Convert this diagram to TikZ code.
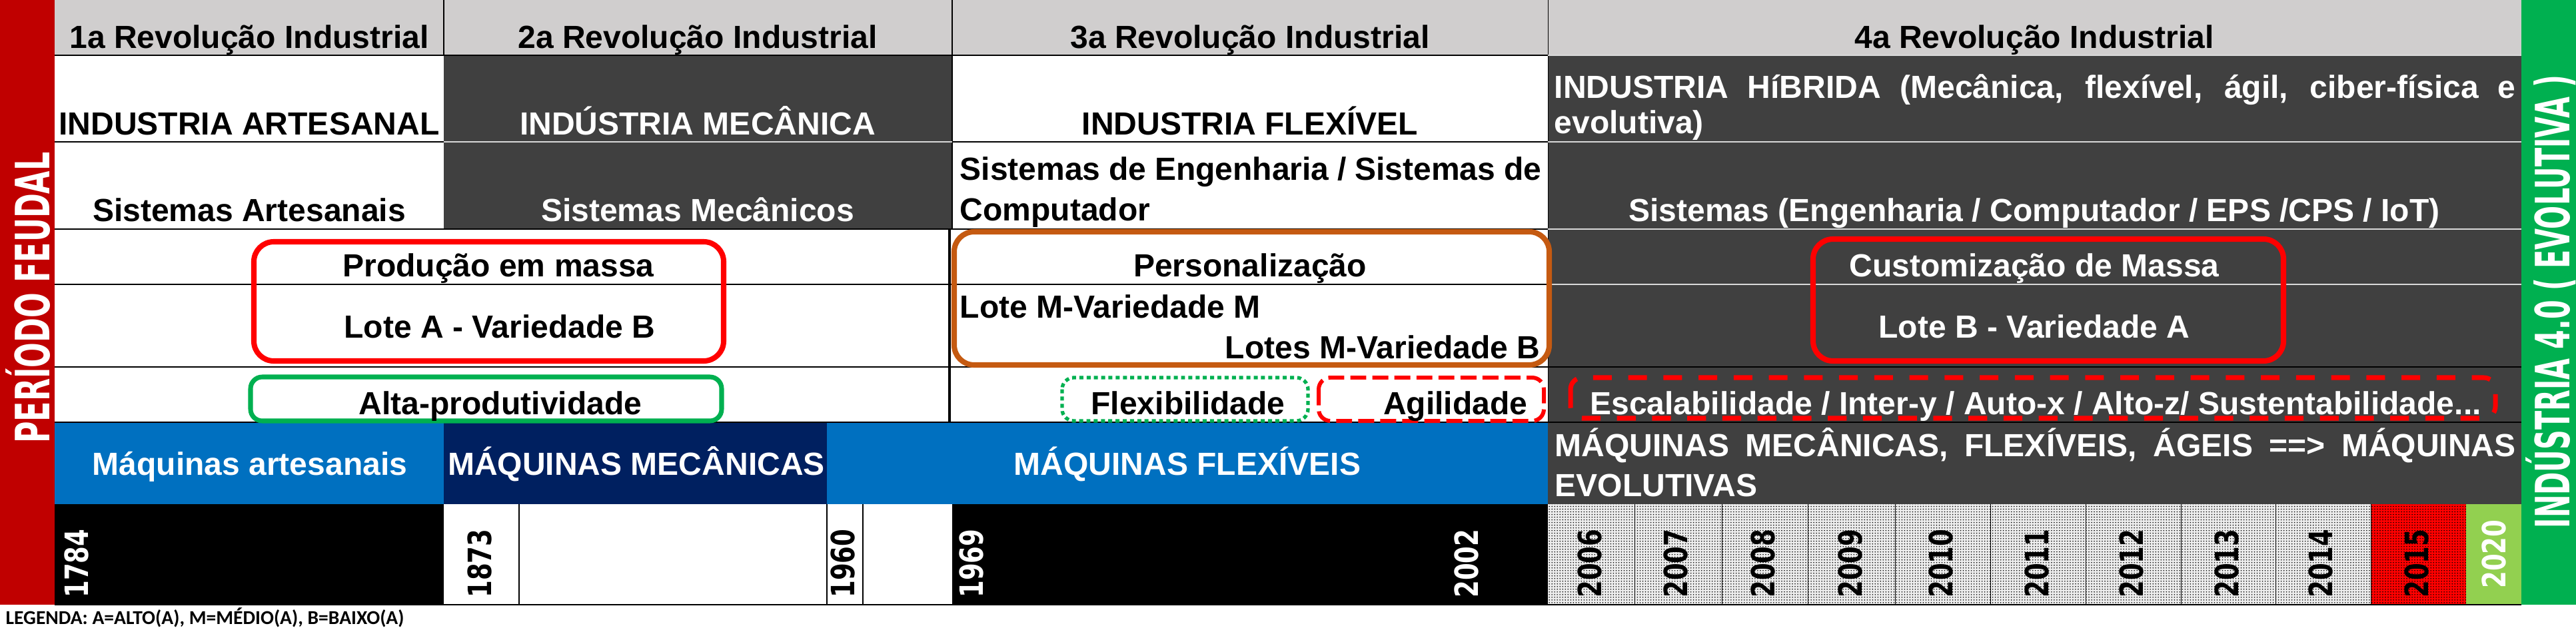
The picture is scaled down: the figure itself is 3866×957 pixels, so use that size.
\documentclass[tikz,border=0pt]{standalone}
\usepackage{fontspec}
\setmainfont{Liberation Sans}
\newfontfamily\yearfont{DejaVu Sans}
\newfontfamily\legendfont{Carlito}
\usetikzlibrary{patterns.meta}

\definecolor{hdgray}{HTML}{D0CECE}
\definecolor{cellgray}{HTML}{404040}
\definecolor{feudalred}{HTML}{C00000}
\definecolor{indgreen}{HTML}{00B050}
\definecolor{mqblue}{HTML}{0070C0}
\definecolor{mqnavy}{HTML}{002060}
\definecolor{persbrown}{HTML}{C55A11}
\definecolor{yrgreen}{HTML}{92D050}
\definecolor{vivred}{HTML}{FF0000}

\newcommand\cellfont[1]{\fontsize{13.66pt}{#1}\selectfont\bfseries}
\newcommand\yearbox[1]{\resizebox{1.03cm}{\height}{#1}}

\tikzset{
  cell/.style={inner sep=0pt, anchor=base, font=\cellfont{17pt}},
  wcell/.style={cell, text=white},
  jcell/.style={cell, anchor=base west, align=justify, text width=#1},
  yearlbl/.style={inner sep=0pt, rotate=90, font=\yearfont\fontsize{13.7pt}{14pt}\selectfont\bfseries},
  sidelbl/.style={inner sep=0pt, rotate=90, text=white, font=\yearfont\fontsize{20.2pt}{21pt}\selectfont\bfseries},
  grid/.style={line width=0.3pt},
  wgrid/.style={line width=0.3pt, white!85!black},
  bigbox/.style={rounded corners=8.5pt, line width=2.3pt},
  smallbox/.style={rounded corners=5pt, line width=#1}
}

\begin{document}
\begin{tikzpicture}[x=0.01cm, y=-0.01cm]
    \useasboundingbox (0,0) rectangle (3866,957);
    % fundos
    \fill[feudalred] (0,0) rectangle (82,908);
    \fill[indgreen] (3784,0) rectangle (3866,908);
    \fill[hdgray] (82,0) rectangle (3784,83);
    \fill[cellgray] (666,83) rectangle (1429,344);
    \fill[cellgray] (2323,83) rectangle (3784,757);
    \fill[mqblue] (82,634) rectangle (666,757);
    \fill[mqnavy] (666,634) rectangle (1241,757);
    \fill[mqblue] (1241,634) rectangle (2323,757);
    \fill[black] (82,757) rectangle (666,908);
    \fill[black] (1429,757) rectangle (2323,908);
    \fill[black!7] (2323,757) rectangle (3558,908);
    \fill[vivred] (3558,757) rectangle (3701,908);
    \fill[yrgreen] (3701,757) rectangle (3784,908);
    \fill[pattern={Dots[distance=1.14pt, radius=0.25pt]}] (2323,757) rectangle (3701,908);
    % grade
    \draw[grid] (82,83) -- (2323,83) (666,0) -- (666,83) (1429,0) -- (1429,344) (2323,0) -- (2323,634);
    \draw[grid] (82,213) -- (666,213) (1429,213) -- (2323,213);
    \draw[grid] (82,344) -- (2323,344) (82,427) -- (2323,427);
    \draw[grid] (82,551) -- (3784,551) (82,634) -- (3784,634) (82,908) -- (3784,908);
    \draw[wgrid] (2323,83) -- (3784,83) (666,213) -- (1429,213) (2323,213) -- (3784,213);
    \draw[wgrid] (2323,344) -- (3784,344) (2323,427) -- (3784,427);
    \draw[line width=1.4pt] (1425,344) -- (1425,634);
    \draw[grid] (779,757) -- (779,908) (1241,757) -- (1241,908) (1295,757) -- (1295,908)
      (2453,757) -- (2453,908) (2584,757) -- (2584,908) (2713,757) -- (2713,908)
      (2844,757) -- (2844,908) (2987,757) -- (2987,908) (3130,757) -- (3130,908)
      (3273,757) -- (3273,908) (3415,757) -- (3415,908) (3558,757) -- (3558,908);
    % caixas
    \draw[vivred, bigbox] (381,363) rectangle (1086,542);
    \draw[persbrown, bigbox] (1432,348) rectangle (2325,548);
    \draw[vivred, bigbox] (2721,359) rectangle (3427,542);
    \draw[indgreen, smallbox=2pt] (376,566) rectangle (1083,632);
    \draw[indgreen, smallbox=1.5pt, dash pattern=on 1.7pt off 1.4pt] (1594,567) rectangle (1963,632);
    \draw[vivred, smallbox=1.7pt, dash pattern=on 6.8pt off 2.6pt] (1979,567) rectangle (2317,632);
    \draw[vivred, smallbox=2pt, dash pattern=on 8pt off 7pt] (2357,567) rectangle (3745,628);
    % cabecalho
    \node[cell] (rev1) at (374,72) {1a Revolução Industrial};
    \node[cell] (rev2) at (1047,72) {2a Revolução Industrial};
    \node[cell] (rev3) at (1876,72) {3a Revolução Industrial};
    \node[cell] (rev4) at (3053,72) {4a Revolução Industrial};
    % industria
    \node[cell] (ind1) at (374,202) {INDUSTRIA ARTESANAL};
    \node[wcell] (ind2) at (1047,202) {INDÚSTRIA MECÂNICA};
    \node[cell] (ind3) at (1876,202) {INDUSTRIA FLEXÍVEL};
    \node[jcell=14.42cm, text=white, font=\cellfont{15.1pt}] (ind4) at (2332,147)
      {INDUSTRIA HíBRIDA (Mecânica, flexível, ágil, ciber-física e\linebreak evolutiva)};
    % sistemas
    \node[cell] (sys1) at (374,332) {Sistemas Artesanais};
    \node[wcell] (sys2) at (1047,332) {Sistemas Mecânicos};
    \node[jcell=8.72cm, font=\cellfont{17.6pt}] (sys3) at (1440,270)
      {Sistemas de Engenharia / Sistemas de\linebreak Computador};
    \node[wcell] (sys4) at (3053,332) {Sistemas (Engenharia / Computador / EPS /CPS / IoT)};
    % producao
    \node[cell] (prod) at (748,415) {Produção em massa};
    \node[cell] (pers) at (1876,415) {Personalização};
    \node[wcell] (cust) at (3053,415) {Customização de Massa};
    \node[cell] (loteA) at (750,507) {Lote A - Variedade B};
    \node[cell, anchor=base west] (loteM) at (1440,477) {Lote M-Variedade M};
    \node[cell, anchor=base east] (lotesM) at (2312,538) {Lotes M-Variedade B};
    \node[wcell] (loteB) at (3053,507) {Lote B - Variedade A};
    % atributos
    \node[cell] (alta) at (751,622) {Alta-produtividade};
    \node[cell] (flex) at (1783,622) {Flexibilidade};
    \node[cell, anchor=base east] (agil) at (2293,622) {Agilidade};
    \node[wcell] (escal) at (3055,622) {Escalabilidade / Inter-y / Auto-x / Alto-z/ Sustentabilidade...};
    % maquinas
    \node[wcell] (maq1) at (375,713) {Máquinas artesanais};
    \node[wcell] (maq2) at (955,713) {MÁQUINAS MECÂNICAS};
    \node[wcell] (maq3) at (1782,713) {MÁQUINAS FLEXÍVEIS};
    \node[jcell=14.41cm, text=white, font=\cellfont{17.1pt}] (maq4) at (2333,685)
      {MÁQUINAS MECÂNICAS, FLEXÍVEIS, ÁGEIS ==> MÁQUINAS\linebreak EVOLUTIVAS};
    % anos
    \node[yearlbl, text=white] (y1784) at (115,846) {\yearbox{1784}};
    \node[yearlbl] (y1873) at (720,846) {\yearbox{1873}};
    \node[yearlbl] (y1960) at (1265,846) {\yearbox{1960}};
    \node[yearlbl, text=white] (y1969) at (1458,846) {\yearbox{1969}};
    \node[yearlbl, text=white] (y2002) at (2201,846) {\yearbox{2002}};
    \node[yearlbl] (y2006) at (2386,846) {\yearbox{2006}};
    \node[yearlbl] (y2007) at (2515,846) {\yearbox{2007}};
    \node[yearlbl] (y2008) at (2646,846) {\yearbox{2008}};
    \node[yearlbl] (y2009) at (2777,846) {\yearbox{2009}};
    \node[yearlbl] (y2010) at (2913,846) {\yearbox{2010}};
    \node[yearlbl] (y2011) at (3057,846) {\yearbox{2011}};
    \node[yearlbl] (y2012) at (3199,846) {\yearbox{2012}};
    \node[yearlbl] (y2013) at (3342,846) {\yearbox{2013}};
    \node[yearlbl] (y2014) at (3483,846) {\yearbox{2014}};
    \node[yearlbl] (y2015) at (3627,846) {\yearbox{2015}};
    \node[yearlbl, text=white] (y2020) at (3743,832) {\yearbox{2020}};
    % faixas laterais
    \node[sidelbl] (feudal) at (42,447) {\resizebox{4.37cm}{\height}{PERÍODO FEUDAL}};
    \node[sidelbl] (ind40) at (3828,453) {\resizebox{6.80cm}{\height}{INDÚSTRIA 4.0 ( EVOLUTIVA )}};
    % legenda
    \node[font=\legendfont\fontsize{8.4pt}{9pt}\selectfont\bfseries, inner sep=0pt, anchor=base west]
      (legenda) at (8,937) {LEGENDA: A=ALTO(A), M=MÉDIO(A), B=BAIXO(A)};
\end{tikzpicture}
\end{document}
